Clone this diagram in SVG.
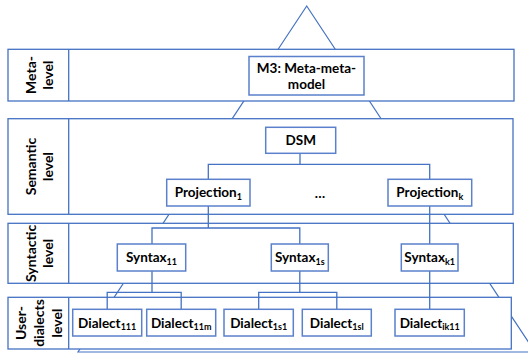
<svg xmlns="http://www.w3.org/2000/svg" width="528" height="354" viewBox="0 0 528 354">
<style>
.bg{fill:#fff}
.tri{fill:none;stroke:#4472C4;stroke-width:1.2}
.lvl{fill:#fff;stroke:#4472C4;stroke-width:1.3}
.div{stroke:#4472C4;stroke-width:1.3}
.node rect{fill:#fff;stroke:#5B80CC;stroke-width:1.5}
.node text{font-family:Lato,"Liberation Sans",sans-serif;font-weight:bold;font-size:13.5px;fill:#000;text-anchor:middle}
.lab{font-family:Lato,"Liberation Sans",sans-serif;font-weight:bold;font-size:14px;fill:#000;text-anchor:middle}
.sub{font-size:9px}
#connectors path{fill:none;stroke:#4472C4;stroke-width:1.3}
</style>
<rect class="bg" x="0" y="0" width="528" height="354"/>
<polygon class="tri" points="306.7,6 78,352 535,352"/>

<g id="level-meta">
<rect class="lvl" x="8" y="49.3" width="506" height="51.7"/>
<line class="div" x1="68.7" y1="49.3" x2="68.7" y2="101"/>
<text class="lab" transform="translate(0,75) rotate(-90)"><tspan x="0" y="35.5">Meta-</tspan><tspan x="0" y="53.3">level</tspan></text>
</g>
<g id="level-semantic">
<rect class="lvl" x="8" y="118.7" width="505" height="95.6"/>
<line class="div" x1="68.7" y1="118.7" x2="68.7" y2="214.3"/>
<text class="lab" transform="translate(0,166.5) rotate(-90)"><tspan x="0" y="35.5">Semantic</tspan><tspan x="0" y="52.5">level</tspan></text>
</g>
<g id="level-syntactic">
<rect class="lvl" x="8" y="223.3" width="505.3" height="60"/>
<line class="div" x1="68.7" y1="223.3" x2="68.7" y2="283.3"/>
<text class="lab" transform="translate(0,253.3) rotate(-90)"><tspan x="0" y="35.5">Syntactic</tspan><tspan x="0" y="53">level</tspan></text>
</g>
<g id="level-user">
<rect class="lvl" x="8" y="297.3" width="503.3" height="51.7"/>
<line class="div" x1="68.7" y1="297.3" x2="68.7" y2="349"/>
<text class="lab" transform="translate(0,323) rotate(-90)"><tspan x="0" y="25.5">User-</tspan><tspan x="0" y="43.5">dialects</tspan><tspan x="0" y="61.5">level</tspan></text>
</g>

<g id="connectors">
<path d="M300,153.3 V164.3 M208.3,179.3 V164.3 H429.7 V179.3"/>
<path d="M208.3,206 V228 M152,244 V228 H299.8 V244"/>
<path d="M429.7,206 V244"/>
<path d="M152,271 V292.3 M107.2,309.3 V292.3 H181.2 V309.3"/>
<path d="M299.8,271 V292.3 M258.7,309.3 V292.3 H336.8 V309.3"/>
<path d="M429.7,271 V309.3"/>
</g>

<g id="m3" class="node">
<rect x="249" y="56.5" width="115" height="38.5"/>
<text x="306.5" y="73">M3: Meta-meta-</text>
<text x="306.5" y="89">model</text>
</g>
<g id="dsm" class="node">
<rect x="265.7" y="127.3" width="70" height="26"/>
<text x="300.7" y="145">DSM</text>
</g>
<g id="proj1" class="node">
<rect x="166.7" y="179.3" width="83.3" height="26.7"/>
<text x="208.3" y="197">Projection<tspan class="sub" dy="2.5">1</tspan></text>
</g>
<g id="ellipsis" class="node">
<text x="320" y="198">…</text>
</g>
<g id="projk" class="node">
<rect x="388" y="179.3" width="83.7" height="26.7"/>
<text x="429.8" y="197">Projection<tspan class="sub" dy="2.5">k</tspan></text>
</g>
<g id="syn11" class="node">
<rect x="117.3" y="244" width="68.4" height="27"/>
<text x="151.5" y="262">Syntax<tspan class="sub" dy="2.5">11</tspan></text>
</g>
<g id="syn1s" class="node">
<rect x="271.3" y="244" width="57" height="27"/>
<text x="299.8" y="262">Syntax<tspan class="sub" dy="2.5">1s</tspan></text>
</g>
<g id="synk1" class="node">
<rect x="401.3" y="244" width="56.7" height="27"/>
<text x="429.7" y="262">Syntax<tspan class="sub" dy="2.5">k1</tspan></text>
</g>
<g id="d111" class="node">
<rect x="72.7" y="309.3" width="69" height="26.7"/>
<text x="107.2" y="327.5">Dialect<tspan class="sub" dy="2.5">111</tspan></text>
</g>
<g id="d11m" class="node">
<rect x="146.7" y="309.3" width="69" height="26.7"/>
<text x="181.2" y="327.5">Dialect<tspan class="sub" dy="2.5">11m</tspan></text>
</g>
<g id="d1s1" class="node">
<rect x="224" y="309.3" width="69.3" height="26.7"/>
<text x="258.7" y="327.5">Dialect<tspan class="sub" dy="2.5">1s1</tspan></text>
</g>
<g id="d1sl" class="node">
<rect x="302.3" y="309.3" width="69" height="26.7"/>
<text x="336.8" y="327.5">Dialect<tspan class="sub" dy="2.5">1sl</tspan></text>
</g>
<g id="dik11" class="node">
<rect x="395" y="309.3" width="69.3" height="26.7"/>
<text x="429.7" y="327.5">Dialect<tspan class="sub" dy="2.5">ik11</tspan></text>
</g>
</svg>
